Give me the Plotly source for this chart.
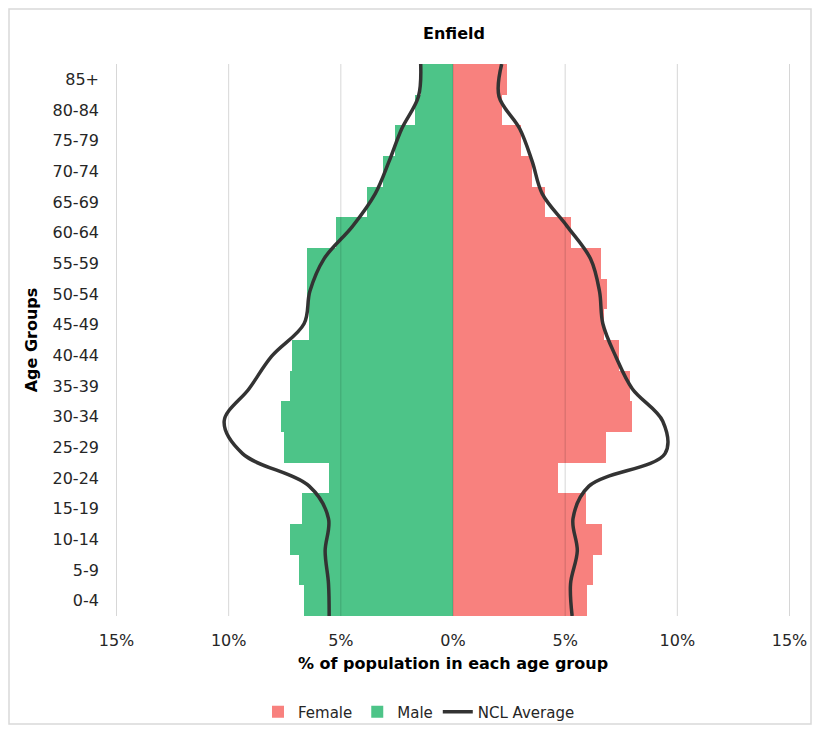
import plotly.graph_objects as go

age_groups = ["0-4", "5-9", "10-14", "15-19", "20-24", "25-29", "30-34", "35-39", "40-44",
              "45-49", "50-54", "55-59", "60-64", "65-69", "70-74", "75-79", "80-84", "85+"]
male_pct = [6.64, 6.86, 7.26, 6.71, 5.52, 7.53, 7.68, 7.26, 7.16,
            6.44, 6.49, 6.49, 5.23, 3.85, 3.10, 2.58, 1.69, 1.44]
female_pct = [5.98, 6.24, 6.65, 5.94, 4.69, 6.83, 7.96, 7.91, 7.39,
              6.75, 6.88, 6.61, 5.27, 4.10, 3.53, 3.04, 2.20, 2.39]
ncl_male = [5.52, 5.55, 5.70, 5.55, 6.41, 9.38, 10.2, 9.09, 8.08,
            6.64, 6.38, 5.75, 4.48, 3.47, 2.85, 2.29, 1.54, 1.44]
ncl_female = [5.31, 5.24, 5.54, 5.35, 6.06, 9.45, 9.35, 7.99, 7.25,
              6.68, 6.53, 6.13, 5.09, 3.98, 3.53, 2.98, 2.05, 2.17]
tick_vals = [-15, -10, -5, 0, 5, 10, 15]
tick_text = ["15%", "10%", "5%", "0%", "5%", "10%", "15%"]

FONT = "DejaVu Sans"
# page body has an 8px margin, so the figure is sized to fit inside the window
W, H = 804, 717
ML, MR, MT, MB = 104, 18, 56, 109
PW, PH = W - ML - MR, H - MT - MB

fig = go.Figure()
fig.add_trace(go.Bar(
    y=age_groups, x=female_pct, orientation="h", name="Female",
    marker=dict(color="#F8817E", line=dict(width=0)),
))
fig.add_trace(go.Bar(
    y=age_groups, x=[-v for v in male_pct], orientation="h", name="Male",
    marker=dict(color="#4DC488", line=dict(width=0)),
))
fig.add_trace(go.Scatter(
    y=age_groups, x=ncl_female, yaxis="y2", mode="lines", name="NCL Average",
    legendgroup="ncl", line=dict(color="#333333", width=3.5, shape="spline", smoothing=1),
))
fig.add_trace(go.Scatter(
    y=age_groups, x=[-v for v in ncl_male], yaxis="y2", mode="lines", name="NCL Average",
    legendgroup="ncl", showlegend=False,
    line=dict(color="#333333", width=3.5, shape="spline", smoothing=1),
))

shapes = []
for tv in tick_vals:
    shapes.append(dict(type="line", xref="x", yref="paper", x0=tv, x1=tv, y0=0, y1=1,
                       line=dict(color="rgba(0,0,0,0.16)", width=1), layer="above"))
# outer chart border
shapes.append(dict(type="rect", xref="paper", yref="paper",
                   x0=(1 - ML) / PW, x1=(W - 1 - ML) / PW,
                   y0=(MT + PH - (H - 1)) / PH, y1=(MT + PH - 1) / PH,
                   line=dict(color="#D9D9D9", width=1.5), layer="below"))

fig.update_layout(
    width=W, height=H,
    margin=dict(l=ML, r=MR, t=MT, b=MB, autoexpand=False),
    paper_bgcolor="white", plot_bgcolor="white",
    font=dict(family=FONT, size=16, color="#262626"),
    barmode="relative", bargap=0,
    title=dict(text="<b>Enfield</b>", x=(454 - 8) / W, xanchor="center",
               y=1 - 25 / H, yanchor="middle",
               font=dict(family=FONT, size=16, color="#000000")),
    xaxis=dict(range=[-15.2, 15.2], tickvals=tick_vals, ticktext=tick_text,
               showgrid=False, zeroline=False, showline=False, ticks="",
               ticklabelstandoff=13, tickfont=dict(size=16, color="#262626"),
               title=dict(text="<b>% of population in each age group</b>", standoff=8,
                          font=dict(size=16, color="#000000"))),
    yaxis=dict(categoryorder="array", categoryarray=age_groups, range=[-0.5, 17.5],
               showgrid=False, zeroline=False, showline=False, ticks="",
               ticklabelstandoff=12, tickfont=dict(size=16, color="#262626"),
               title=dict(text="<b>Age Groups</b>", standoff=10,
                          font=dict(size=16, color="#000000"))),
    yaxis2=dict(overlaying="y", categoryorder="array", categoryarray=age_groups,
                range=[0, 17], visible=False),
    legend=dict(orientation="h", xref="container", x=(419 - 8) / W, xanchor="center",
                y=(MT + PH - 704) / PH, yanchor="middle",
                bgcolor="rgba(0,0,0,0)",
                font=dict(size=15, color="#262626"),
                traceorder="normal", itemwidth=30),
    shapes=shapes,
    showlegend=True,
)

fig.write_html("out.html")
